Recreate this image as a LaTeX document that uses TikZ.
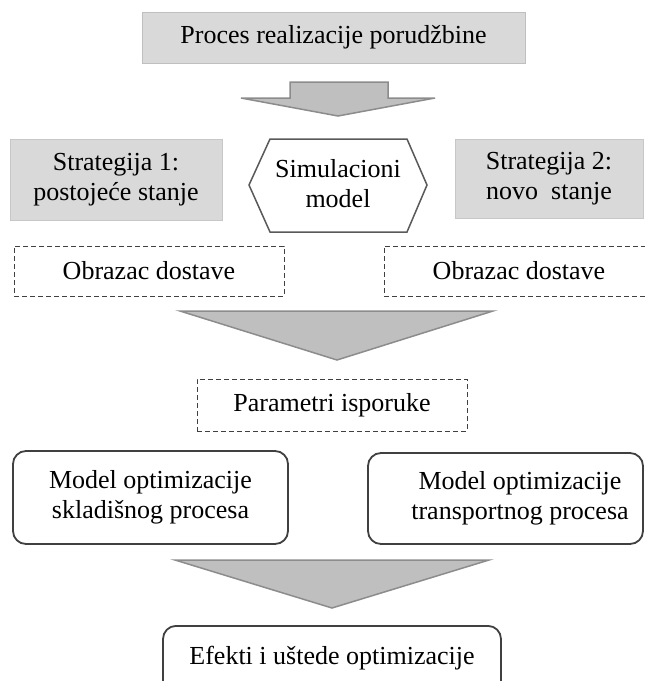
\documentclass[tikz,border=0pt]{standalone}
\usepackage{fontspec}
\setmainfont{Liberation Serif}
\begin{document}
\begin{tikzpicture}[x=1pt,y=-1pt,
  txt/.style={font=\fontsize{26}{30}\selectfont, align=center, inner sep=0pt, text=black},
  graybox/.style={txt, draw=#1, fill=boxgray, line width=1pt, minimum width=0pt},
  dashbox/.style={txt, draw=dashcol, dash pattern=on 5pt off 3pt, line width=1pt},
  roundbox/.style={txt, draw=rndcol, rounded corners=13pt, line width=1.8pt},
  blockarrow/.style={fill=arrowfill, draw=arrowline, line width=1.5pt, line join=miter}
]
\definecolor{boxgray}{HTML}{D9D9D9}
\definecolor{arrowfill}{HTML}{BFBFBF}
\definecolor{arrowline}{HTML}{8C8C8C}
\definecolor{dashcol}{HTML}{404040}
\definecolor{rndcol}{HTML}{404040}
\definecolor{hexcol}{HTML}{595959}
\useasboundingbox (0,0) rectangle (645,681);

% top box
\node[graybox=arrowfill, minimum width=383pt, minimum height=51pt] (proc) at (333.5,37.5) {Proces realizacije porudžbine};

% block arrow 1
\coordinate (a1) at (338,116);
\draw[blockarrow] (290,82) -- (388,82) -- (388,98) -- (435,98) -- (a1) -- (241,98) -- (290,98) -- cycle;

% strategy boxes
\node[graybox=boxgray!80!gray, minimum width=212pt, minimum height=81pt] (s1) at (116,179.5) {Strategija 1:\\postojeće stanje};
\node[graybox=boxgray!80!gray, minimum width=188pt, minimum height=79pt] (s2) at (549,178.5) {Strategija 2:\\novo\ \ stanje};

% hexagon
\draw[draw=hexcol, line width=1.5pt, fill=white, line join=miter]
  (249,185) -- (270,139) -- (407,139) -- (427,185) -- (407,232) -- (270,232) -- cycle;
\node[txt] (sim) at (338,184) {Simulacioni\\model};

% dashed boxes
\node[dashbox, minimum width=270pt, minimum height=50pt] (ob1) at (149,271) {Obrazac dostave};
\node[dashbox, minimum width=270pt, minimum height=50pt] (ob2) at (519,271) {Obrazac dostave};

% triangle 1
\coordinate (t1) at (337,360);
\draw[blockarrow] (180,311) -- (493,311) -- (t1) -- cycle;

\node[dashbox, minimum width=270pt, minimum height=52pt] (par) at (332,405) {Parametri isporuke};

% model boxes
\node[roundbox, minimum width=275pt, minimum height=93pt] (m1) at (150.5,497.5) {Model optimizacije\\skladišnog procesa};
\node[roundbox, minimum width=275pt, minimum height=91pt] (m2) at (505.5,498.5) {};
\node[txt] (m2t) at (520,498) {Model optimizacije\\transportnog procesa};

% triangle 2
\coordinate (t2) at (332,608);
\draw[blockarrow] (175,560) -- (489,560) -- (t2) -- cycle;

% effects box
\node[roundbox, minimum width=338pt, minimum height=70pt, anchor=north] (ef) at (332,625) {};
\node[txt] (eft) at (332,658) {Efekti i uštede optimizacije};
\end{tikzpicture}
\end{document}
